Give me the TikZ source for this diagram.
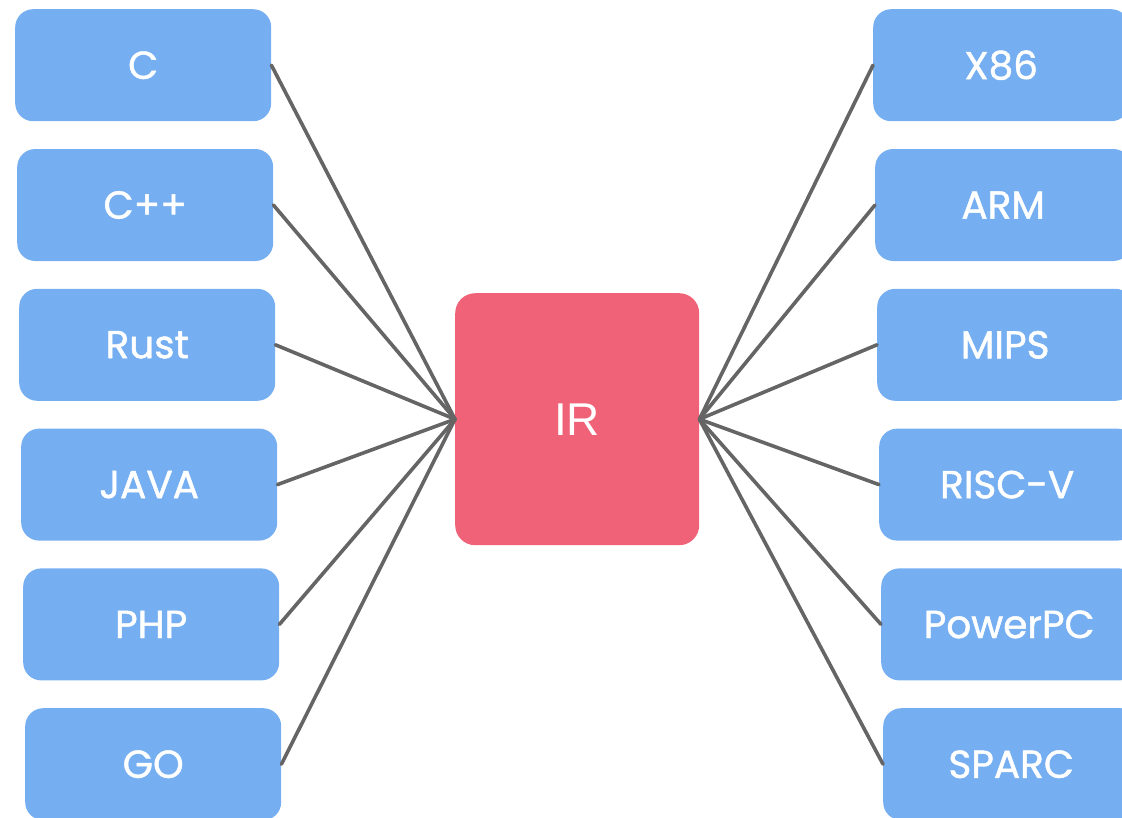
\documentclass[tikz,border=0pt]{standalone}
\usepackage{fontspec}
\newfontfamily\labfont[FakeBold=1.2]{Poppins}
\newfontfamily\irfont{Liberation Sans}
\definecolor{boxblue}{RGB}{118,175,241}
\definecolor{irred}{RGB}{240,98,119}
\definecolor{linegray}{RGB}{101,101,101}
\tikzset{
  langbox/.style={fill=boxblue, draw=none, rounded corners=18pt, minimum width=256pt, minimum height=112pt, inner sep=0pt, text=white, font=\labfont\fontsize{39}{39}\selectfont, anchor=north west},
  irbox/.style={fill=irred, draw=none, rounded corners=20pt, minimum width=244pt, minimum height=252pt, inner sep=0pt, text=white, font=\irfont\fontsize{46}{46}\selectfont, anchor=north west},
  conn/.style={draw=linegray, line width=3.6pt, line cap=round}
}
\begin{document}
\begin{tikzpicture}[x=1pt,y=-1pt]
\useasboundingbox (0,0) rectangle (1122,817);
\clip (0,0) rectangle (1122,817);
\node[irbox] (ir) at (455,293) {IR};
\foreach \name/\txt [count=\i from 0] in {c/C, cpp/C++, rust/Rust, java/JAVA, php/PHP, go/GO}{
  \node[langbox] (\name) at ({15+2*\i},{9+139.8*\i}) {\txt};
  \draw[conn] (\name.east) -- (ir.west);
}
\foreach \name/\txt [count=\i from 0] in {x86/X86, arm/ARM, mips/MIPS, riscv/RISC-V, ppc/PowerPC, sparc/SPARC}{
  \node[langbox] (\name) at ({873+2*\i},{9+139.8*\i}) {\txt};
  \draw[conn] (\name.west) -- (ir.east);
}
\end{tikzpicture}
\end{document}
